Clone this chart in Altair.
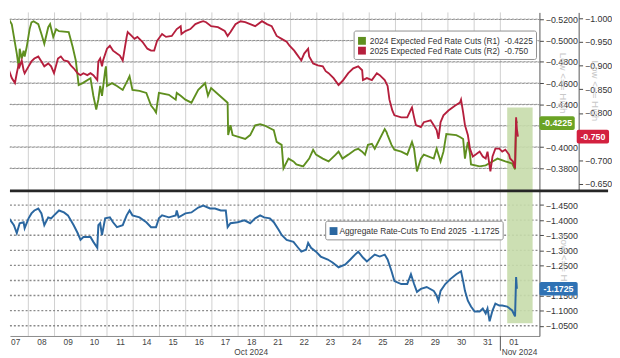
import altair as alt
import pandas as pd

# ---------------- data ----------------
day_labels = ["07", "08", "09", "10", "11", "14", "15", "16", "17", "18",
              "21", "22", "23", "24", "25", "28", "29", "30", "31", "01"]
month_labels = ["Oct 2024", "Nov 2024"]
month_pos = [9.5, 19.05]

r1_ticks = [-0.52, -0.50, -0.48, -0.46, -0.44, -0.42, -0.40, -0.38]
r2_ticks = [-1.00, -0.95, -0.90, -0.85, -0.80, -0.75, -0.70, -0.65]
agg_ticks = [-1.45, -1.40, -1.35, -1.30, -1.25, -1.20, -1.15, -1.10, -1.05]

# (trading-day position, value)
r1_series = [
    (0.00, -0.5311), (0.37, -0.5154), (0.56, -0.4878), (0.64, -0.4740), (0.67, -0.4924),
    (0.75, -0.4832), (0.82, -0.4905), (0.86, -0.4850), (0.94, -0.4942), (1.05, -0.5108),
    (1.12, -0.5172), (1.20, -0.5182), (1.38, -0.5154), (1.50, -0.5062), (1.61, -0.4970),
    (1.76, -0.5126), (1.83, -0.5154), (1.95, -0.5034), (2.06, -0.5108), (2.17, -0.5089),
    (2.54, -0.5080), (2.69, -0.4942), (2.81, -0.4813), (2.92, -0.4583), (3.07, -0.4601),
    (3.37, -0.4647), (3.48, -0.4482), (3.59, -0.4353), (3.67, -0.4445), (3.74, -0.4574),
    (3.81, -0.4482), (3.93, -0.4721), (3.96, -0.4758), (4.00, -0.4574), (4.19, -0.4601),
    (4.38, -0.4574), (4.60, -0.4537), (4.79, -0.4629), (4.86, -0.4666), (4.97, -0.4537),
    (5.24, -0.4528), (5.50, -0.4509), (5.68, -0.4390), (5.80, -0.4353), (5.87, -0.4325),
    (5.98, -0.4509), (6.36, -0.4491), (6.62, -0.4445), (6.66, -0.4509), (6.81, -0.4482),
    (6.99, -0.4445), (7.22, -0.4417), (7.48, -0.4537), (7.67, -0.4583), (7.74, -0.4601),
    (7.85, -0.4482), (7.97, -0.4555), (8.60, -0.4417), (8.62, -0.4113), (8.71, -0.4205),
    (8.79, -0.4113), (9.27, -0.4076), (9.46, -0.4113), (9.65, -0.4205), (9.84, -0.4215),
    (9.99, -0.4205), (10.36, -0.4159), (10.47, -0.4049), (10.66, -0.4021), (10.73, -0.3800),
    (10.92, -0.3892), (11.11, -0.3865), (11.22, -0.3837), (11.48, -0.3819), (11.71, -0.3892),
    (11.86, -0.3975), (11.97, -0.3929), (12.23, -0.3892), (12.45, -0.3865), (12.72, -0.3929),
    (12.83, -0.3957), (12.98, -0.3892), (13.20, -0.3929), (13.46, -0.3975), (13.58, -0.3984),
    (13.73, -0.3957), (13.84, -0.3929), (13.95, -0.4021), (14.10, -0.4030), (14.21, -0.3984),
    (14.59, -0.4168), (14.66, -0.4141), (14.70, -0.4113), (14.85, -0.4021), (14.96, -0.3975),
    (15.22, -0.3957), (15.45, -0.3929), (15.63, -0.4049), (15.71, -0.3984), (15.82, -0.3772),
    (15.97, -0.3892), (16.08, -0.3929), (16.46, -0.3892), (16.57, -0.3984), (16.72, -0.3865),
    (16.83, -0.3957), (16.94, -0.4122), (17.32, -0.4113), (17.46, -0.4095), (17.58, -0.4076),
    (17.65, -0.3892), (17.69, -0.3957), (17.76, -0.4049), (17.84, -0.3938), (17.88, -0.3837),
    (18.21, -0.3819), (18.44, -0.3828), (18.70, -0.3865), (18.89, -0.3892), (19.19, -0.3865),
    (19.45, -0.3846), (19.56, -0.3791), (19.60, -0.4251), (19.63, -0.4225),
]

r2_series = [
    (0.00, -0.8985), (0.11, -0.8944), (0.26, -0.8902), (0.37, -0.8737), (0.49, -0.8633),
    (0.56, -0.8840), (0.64, -0.9047), (0.67, -0.8985), (0.75, -0.9109), (0.82, -0.8902),
    (0.86, -0.8840), (1.01, -0.8985), (1.12, -0.9089), (1.23, -0.9151), (1.38, -0.9192),
    (1.50, -0.9089), (1.61, -0.8985), (1.76, -0.9047), (1.87, -0.8985), (1.98, -0.8840),
    (2.13, -0.9151), (2.24, -0.9192), (2.36, -0.9109), (2.51, -0.9089), (2.62, -0.9006),
    (2.73, -0.8944), (2.88, -0.8840), (2.99, -0.8799), (3.10, -0.8840), (3.25, -0.8799),
    (3.37, -0.8840), (3.48, -0.8799), (3.63, -0.8695), (3.67, -0.9089), (3.74, -0.9151),
    (3.81, -0.8985), (3.85, -0.9109), (4.00, -0.9358), (4.11, -0.9420), (4.23, -0.9317),
    (4.38, -0.9254), (4.49, -0.9213), (4.60, -0.9109), (4.75, -0.9607), (4.79, -0.9710),
    (4.94, -0.9627), (5.05, -0.9565), (5.16, -0.9607), (5.35, -0.9503), (5.54, -0.9358),
    (5.68, -0.9317), (5.80, -0.9317), (5.91, -0.9524), (6.10, -0.9669), (6.25, -0.9607),
    (6.47, -0.9627), (6.66, -0.9772), (6.81, -0.9834), (6.84, -0.9669), (6.99, -0.9731),
    (7.18, -0.9772), (7.37, -0.9876), (7.55, -0.9917), (7.67, -0.9938), (7.78, -0.9917),
    (7.97, -0.9834), (8.23, -0.9814), (8.49, -0.9731), (8.60, -0.9627), (8.71, -0.9710),
    (8.90, -0.9876), (9.09, -0.9938), (9.27, -0.9917), (9.46, -0.9876), (9.65, -0.9834),
    (9.91, -0.9938), (10.10, -0.9876), (10.28, -0.9834), (10.47, -0.9627), (10.66, -0.9565),
    (10.85, -0.9503), (10.96, -0.9420), (11.14, -0.9317), (11.22, -0.9254), (11.41, -0.9109),
    (11.52, -0.9254), (11.67, -0.9358), (11.71, -0.9192), (11.86, -0.9047), (12.04, -0.9006),
    (12.23, -0.8985), (12.34, -0.8882), (12.45, -0.8840), (12.64, -0.8737), (12.83, -0.8592),
    (12.98, -0.8675), (13.20, -0.8840), (13.39, -0.8944), (13.58, -0.8985), (13.73, -0.8902),
    (13.76, -0.8695), (13.91, -0.8737), (14.10, -0.8695), (14.29, -0.8840), (14.40, -0.8799),
    (14.59, -0.8695), (14.70, -0.8571), (14.77, -0.8281), (14.88, -0.8053), (14.96, -0.7950),
    (15.22, -0.7908), (15.45, -0.7908), (15.59, -0.8074), (15.63, -0.8115), (15.71, -0.7908),
    (15.78, -0.7743), (15.97, -0.7701), (16.08, -0.7805), (16.34, -0.7846), (16.46, -0.7743),
    (16.57, -0.7639), (16.64, -0.7453), (16.72, -0.7805), (16.83, -0.7950), (17.02, -0.8053),
    (17.28, -0.8157), (17.46, -0.8219), (17.50, -0.8281), (17.58, -0.8012), (17.65, -0.7743),
    (17.76, -0.7536), (17.84, -0.7246), (17.95, -0.7080), (18.06, -0.7122), (18.21, -0.7184),
    (18.33, -0.7080), (18.44, -0.7039), (18.51, -0.7184), (18.62, -0.6769), (18.70, -0.7080),
    (18.81, -0.7246), (18.96, -0.7246), (19.07, -0.7184), (19.19, -0.7226), (19.33, -0.7122),
    (19.37, -0.7039), (19.48, -0.6976), (19.56, -0.6831), (19.60, -0.7908), (19.63, -0.7660),
    (19.67, -0.7500),
]

agg_series = [
    (0.00, -1.4224), (0.11, -1.4159), (0.26, -1.4061), (0.45, -1.3833), (0.56, -1.3573),
    (0.67, -1.3898), (0.82, -1.3931), (0.86, -1.3736), (1.01, -1.4061), (1.12, -1.4224),
    (1.23, -1.4321), (1.38, -1.4386), (1.50, -1.4224), (1.61, -1.3833), (1.76, -1.4093),
    (1.87, -1.4061), (1.98, -1.4159), (2.17, -1.4321), (2.36, -1.4256), (2.51, -1.4159),
    (2.62, -1.3996), (2.73, -1.3833), (2.88, -1.3573), (2.99, -1.3346), (3.10, -1.3443),
    (3.37, -1.3443), (3.48, -1.3280), (3.63, -1.3085), (3.67, -1.3833), (3.74, -1.3898),
    (3.81, -1.3508), (3.93, -1.4061), (4.11, -1.4093), (4.23, -1.3931), (4.38, -1.3768),
    (4.60, -1.3833), (4.75, -1.4159), (4.86, -1.4321), (4.97, -1.4159), (5.24, -1.4093),
    (5.50, -1.3931), (5.68, -1.3768), (5.87, -1.3768), (5.98, -1.4061), (6.10, -1.4159),
    (6.36, -1.4093), (6.62, -1.4159), (6.66, -1.4321), (6.73, -1.4093), (6.99, -1.4224),
    (7.22, -1.4256), (7.48, -1.4419), (7.67, -1.4484), (7.93, -1.4386), (8.12, -1.4386),
    (8.34, -1.4321), (8.53, -1.4321), (8.60, -1.3768), (8.71, -1.3898), (8.98, -1.3931),
    (9.24, -1.3996), (9.46, -1.3898), (9.65, -1.4061), (9.84, -1.4159), (9.99, -1.4093),
    (10.21, -1.4061), (10.36, -1.3931), (10.55, -1.3671), (10.66, -1.3508), (10.85, -1.3346),
    (11.11, -1.3280), (11.29, -1.3085), (11.41, -1.2955), (11.59, -1.3020), (11.67, -1.3248),
    (11.78, -1.3085), (11.97, -1.2955), (12.15, -1.2793), (12.42, -1.2695), (12.60, -1.2598),
    (12.83, -1.2435), (13.09, -1.2533), (13.28, -1.2695), (13.46, -1.2858), (13.58, -1.2955),
    (13.76, -1.2760), (13.91, -1.2630), (14.21, -1.2858), (14.40, -1.2793), (14.59, -1.2858),
    (14.70, -1.2695), (14.85, -1.2305), (14.96, -1.1980), (15.22, -1.1882), (15.45, -1.1882),
    (15.59, -1.2207), (15.71, -1.1882), (15.82, -1.1622), (15.97, -1.1720), (16.19, -1.1785),
    (16.46, -1.1655), (16.57, -1.1492), (16.64, -1.1329), (16.72, -1.1655), (16.90, -1.1882),
    (17.09, -1.2045), (17.32, -1.2207), (17.50, -1.2305), (17.58, -1.1980), (17.65, -1.1655),
    (17.76, -1.1329), (17.88, -1.1134), (18.02, -1.0972), (18.21, -1.0972), (18.33, -1.1069),
    (18.44, -1.0907), (18.51, -1.1069), (18.59, -1.0646), (18.70, -1.1004), (18.81, -1.1232),
    (18.96, -1.1167), (19.07, -1.1167), (19.26, -1.1134), (19.45, -1.1004), (19.56, -1.0809),
    (19.60, -1.2110), (19.63, -1.1725),
]

last_r1, last_r2, last_agg = -0.4225, -0.750, -1.1725
r1_name = "2024 Expected Fed Rate Cuts (R1)"
r2_name = "2025 Expected Fed Rate Cuts (R2)"
agg_name = "Aggregate Rate-Cuts To End 2025"

shade_start, shade_end = 19.26, 20.23
shade_top_r1 = -0.4371
shade_bottom_agg = -1.058

x_domain = [0.3, 20.49]
r1_domain = [-0.5265, -0.3598]
r2_domain = [-1.0124, -0.6376]
agg_domain = [-1.5004, -1.0159]

# ---------------- styling ----------------
W, H_TOP, H_BOT = 540, 181, 149
GREEN, RED, BLUE = "#5f8f1f", "#b51f3d", "#2b67a0"
TAG_GREEN, TAG_RED, TAG_BLUE = "#6aa324", "#d3203f", "#2f72b4"
SHADE = "#c6dcab"
FONT = "Liberation Sans"
GRID = dict(color="#8a8a8a", strokeDash=[2, 2], strokeWidth=1.4)

df_r1 = pd.DataFrame(r1_series, columns=["t", "v"])
df_r2 = pd.DataFrame(r2_series, columns=["t", "v"])
df_agg = pd.DataFrame(agg_series, columns=["t", "v"])
bounds_df = pd.DataFrame({"t": list(range(1, 20))})
shade_df = pd.DataFrame({"x0": [shade_start], "x1": [shade_end]})
one = pd.DataFrame({"a": [0]})

xs = alt.Scale(domain=x_domain, nice=False, zero=False)


def visible(ticks, hidden):
    # labels that the value tag covers in the reference are not drawn
    return [t for t in ticks if abs(t - hidden) > 0.012]


def y_axis(values, fmt, offset=0):
    return alt.Axis(orient="right", values=values, format=fmt, grid=False,
                    tickSize=4, tickColor="#444", domainColor="#555",
                    labelFontSize=9, labelColor="#333", labelPadding=2,
                    labelFont=FONT, title=None, offset=offset,
                    labelOverlap=False, labelFlush=False)


label_expr = "[" + ",".join(f"'{d}'" for d in day_labels) + "][floor(datum.value)]"
x_axis_bottom = alt.Axis(values=[i + 0.5 for i in range(len(day_labels))], labelExpr=label_expr,
                         grid=False, ticks=False, domainColor="#8a8a8a", labelFontSize=8.5,
                         labelFont=FONT, labelColor="#444", labelPadding=2, title=None,
                         labelOverlap=False, labelFlush=False)

r1_scale = alt.Scale(domain=r1_domain, reverse=True, nice=False, zero=False)
r2_scale = alt.Scale(domain=r2_domain, reverse=True, nice=False, zero=False)
agg_scale = alt.Scale(domain=agg_domain, reverse=True, nice=False, zero=False)
r1_axis = y_axis(visible(r1_ticks, last_r1), ".4f")
r2_axis = y_axis(visible(r2_ticks, last_r2), ".3f", offset=40)
agg_axis = y_axis(visible(agg_ticks, -1.20), ".4f")


def hgrid(ticks, scale, axis):
    return alt.Chart(pd.DataFrame({"g": ticks})).mark_rule(**GRID).encode(
        x=alt.value(0), x2=alt.value(W),
        y=alt.Y("g:Q", scale=scale, axis=axis))


def hgrid_rect(ticks, scale, axis):
    # dotted horizontal grid drawn as outline of very thin rects
    return alt.Chart(pd.DataFrame({"v": ticks})).mark_rect(
        filled=False, color="#8a8a8a", strokeDash=[2, 2], strokeWidth=1,
        height=0.3).encode(
        x=alt.value(0), x2=alt.value(W),
        y=alt.Y("v:Q", scale=scale, axis=axis))


def tag(value, color, x0, x1, text, scale, axis):
    d = pd.DataFrame({"v": [value]})
    yenc = alt.Y("v:Q", scale=scale, axis=axis)
    r = alt.Chart(d).mark_rect(color=color, height=14, cornerRadius=2).encode(
        x=alt.value(x0), x2=alt.value(x1), y=yenc)
    t = alt.Chart(d).mark_text(color="white", fontSize=9, font=FONT, fontWeight="bold",
                               align="center", baseline="middle").encode(
        x=alt.value((x0 + x1) / 2), y=yenc, text=alt.value(text))
    return [r, t]


def box(x0, x1, y0, y1):
    return alt.Chart(one).mark_rect(fill="white", stroke="#8f8f8f", strokeWidth=1,
                                    cornerRadius=2).encode(
        x=alt.value(x0), x2=alt.value(x1), y=alt.value(y0), y2=alt.value(y1))


def swatch(color, x0, y0):
    return alt.Chart(one).mark_rect(color=color).encode(
        x=alt.value(x0), x2=alt.value(x0 + 8), y=alt.value(y0), y2=alt.value(y0 + 8))


def label(text, x, y, size=8.5, color="#333", angle=0):
    kw = dict(fontSize=size, font=FONT, color=color, align="left", baseline="middle")
    if angle:
        kw.update(angle=angle, align="center")
    return alt.Chart(one).mark_text(**kw).encode(
        x=alt.value(x), y=alt.value(y), text=alt.value(text))


# ---------------- top panel ----------------
X_top = alt.X("t:Q", scale=xs, axis=None)
vgrid_top = alt.Chart(bounds_df).mark_rule(color="#cfcfcf", strokeWidth=1).encode(x=X_top)

shade_top = alt.Chart(shade_df).mark_rect(color=SHADE, opacity=0.9).encode(
    x=alt.X("x0:Q", scale=xs, axis=None), x2="x1:Q",
    y=alt.YDatum(shade_top_r1, scale=r1_scale, axis=r1_axis),
    y2=alt.Y2Datum(r1_domain[1]))

green_line = alt.Chart(df_r1).mark_line(color=GREEN, strokeWidth=1.9, clip=True).encode(
    x=X_top, y=alt.Y("v:Q", scale=r1_scale, axis=r1_axis))

red_line = alt.Chart(df_r2).mark_line(color=RED, strokeWidth=1.9, clip=True).encode(
    x=X_top, y=alt.Y("v:Q", scale=r2_scale, axis=r2_axis))

legend_top = [box(351, 537, 19, 48), swatch(GREEN, 355, 25), swatch(RED, 355, 35),
              label(f"{r1_name}\u00a0\u00a0{last_r1:.4f}", 367, 29),
              label(f"{r2_name}\u00a0\u00a0{last_r2:.3f}", 367, 39)]

wm_top = [label("Low <== High", 564, 72, size=10, color="#c8c8c8", angle=90),
          label("Low <== High", 597, 80, size=10, color="#c8c8c8", angle=90)]

group_r1 = alt.layer(vgrid_top, hgrid_rect(r1_ticks, r1_scale, r1_axis),
                     shade_top, green_line, *legend_top, *wm_top,
                     *tag(last_r1, TAG_GREEN, 540, 576, f"{last_r1:.4f}", r1_scale, r1_axis))
group_r2 = alt.layer(red_line,
                     *tag(last_r2, TAG_RED, 578, 611, f"{last_r2:.3f}", r2_scale, r2_axis))

top = alt.layer(group_r1, group_r2).resolve_scale(y="independent").properties(
    width=W, height=H_TOP)

# ---------------- bottom panel ----------------
X_bot = alt.X("t:Q", scale=xs, axis=x_axis_bottom)
vgrid_bot = alt.Chart(bounds_df).mark_rule(color="#cfcfcf", strokeWidth=1).encode(x=X_bot)

shade_bot = alt.Chart(shade_df).mark_rect(color=SHADE, opacity=0.9).encode(
    x=alt.X("x0:Q", scale=xs, axis=x_axis_bottom), x2="x1:Q",
    y=alt.YDatum(agg_domain[0], scale=agg_scale, axis=agg_axis),
    y2=alt.Y2Datum(shade_bottom_agg))

blue_line = alt.Chart(df_agg).mark_line(color=BLUE, strokeWidth=2, clip=True).encode(
    x=X_bot, y=alt.Y("v:Q", scale=agg_scale, axis=agg_axis))

legend_bot = [box(322, 503, 32, 51), swatch(BLUE, 326, 38),
              label(f"{agg_name}\u00a0\u00a0{last_agg:.4f}", 336, 42)]

wm_bot = label("Low <== High", 565, 76, size=10, color="#c8c8c8", angle=90)

separator = alt.Chart(one).mark_rule(color="#262626", strokeWidth=3).encode(
    x=alt.value(0), x2=alt.value(610), y=alt.value(1))

month_df = pd.DataFrame({"t": month_pos, "label": month_labels})
month_tick = alt.Chart(pd.DataFrame({"t": [19]})).mark_rule(color="#555").encode(
    x=X_bot, y=alt.value(H_BOT), y2=alt.value(H_BOT + 15))
oct_text = alt.Chart(month_df.iloc[[0]]).mark_text(
    fontSize=8.5, font=FONT, color="#444", align="center", baseline="middle").encode(
    x=X_bot, y=alt.value(H_BOT + 16), text="label:N")
nov_text = alt.Chart(month_df.iloc[[1]]).mark_text(
    fontSize=8.5, font=FONT, color="#444", align="left", baseline="middle").encode(
    x=X_bot, y=alt.value(H_BOT + 16), text="label:N")

bottom = alt.layer(vgrid_bot, hgrid(agg_ticks, agg_scale, agg_axis),
                   shade_bot, blue_line, *legend_bot, wm_bot,
                   *tag(last_agg, TAG_BLUE, 540, 579, f"{last_agg:.4f}", agg_scale, agg_axis),
                   separator, month_tick, oct_text, nov_text).properties(
    width=W, height=H_BOT)

chart = alt.vconcat(top, bottom, spacing=0, bounds="flush").configure(
    padding=0, font=FONT).configure_view(stroke=None)

chart.save("out.html", embed_options={"renderer": "svg", "actions": False})
